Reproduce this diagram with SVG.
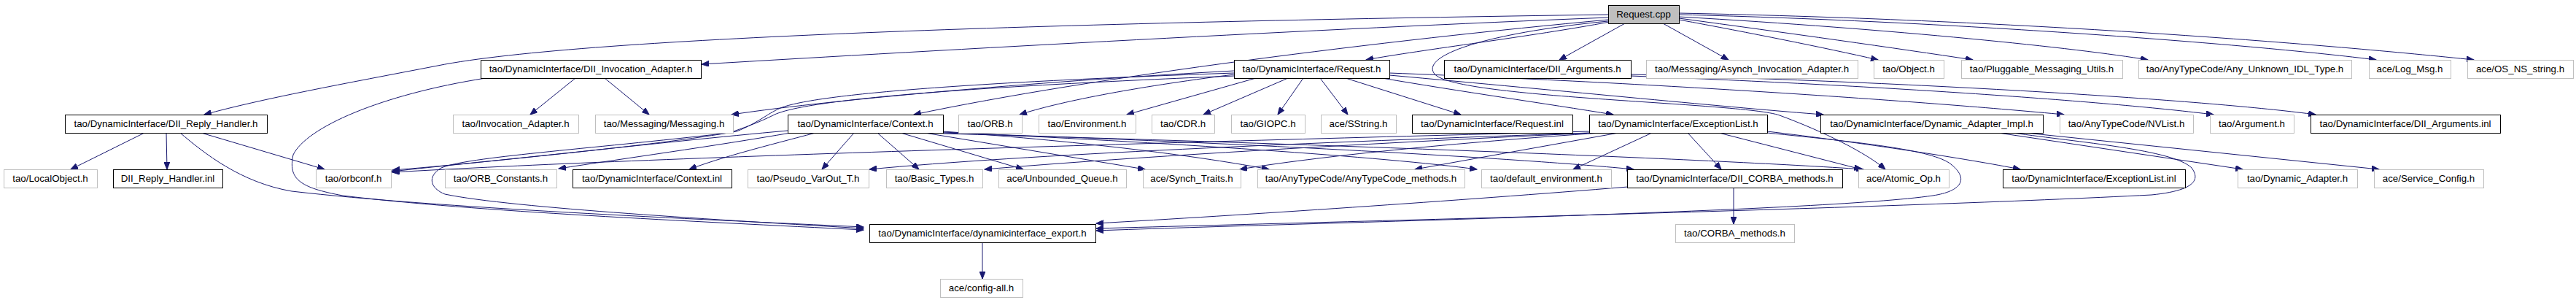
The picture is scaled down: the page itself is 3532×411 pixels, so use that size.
<svg xmlns="http://www.w3.org/2000/svg" width="3532" height="411" viewBox="0 0 3532 411">
<style>
.n rect{fill:#ffffff;stroke:#000000;stroke-width:1}
.u rect{fill:#ffffff;stroke:#bfbfbf;stroke-width:1}
.root rect{fill:#bfbfbf;stroke:#000000;stroke-width:1}
text{font-family:"Liberation Sans",Arial,Helvetica,sans-serif;font-size:13.3px;fill:#000000;text-anchor:middle}
#edges path{fill:none;stroke:#191970;stroke-width:1;marker-end:url(#ah)}
</style>
<defs>
<marker id="ah" markerUnits="userSpaceOnUse" markerWidth="11" markerHeight="8" refX="10" refY="4" orient="auto">
<path d="M0,0 L10,4 L0,8 z" fill="#191970" stroke="#191970" stroke-width="1"/>
</marker>
</defs>
<rect width="3532" height="411" fill="#ffffff"/>
<g id="edges">
<path d="M2207,30 C2100,50 1950,68 1873,82"/>
<path d="M2205,24 C1800,40 1300,68 962,88"/>
<path d="M2205,20 C1500,30 800,50 600,90 C470,115 360,135 280,157"/>
<path d="M2205,27 C1900,55 1500,105 1253,157"/>
<path d="M2228,32 L2138,82"/>
<path d="M2280,32 L2370,82"/>
<path d="M2302,27 C2400,45 2500,65 2575,82"/>
<path d="M2302,25 C2450,45 2600,66 2705,82"/>
<path d="M2302,23 C2600,40 2850,66 2945,82"/>
<path d="M2302,20 C2700,30 3100,62 3258,82"/>
<path d="M2302,18 C2800,28 3200,62 3392,82"/>
<path d="M2205,29 C2040,45 1950,75 1966,100 C1985,135 2390,140 2440,158 C2500,180 2560,210 2585,232"/>
<path d="M1692,97 C1450,110 1150,135 1003,157"/>
<path d="M1692,102 C1550,120 1450,140 1398,157"/>
<path d="M1722,107 L1545,157"/>
<path d="M1766,107 L1650,157"/>
<path d="M1787,107 L1752,157"/>
<path d="M1810,107 L1848,157"/>
<path d="M1845,107 L2003,157"/>
<path d="M1895,107 C2000,125 2120,142 2212,157"/>
<path d="M1905,103 C2150,125 2380,148 2500,157"/>
<path d="M1905,100 C2300,115 2650,140 2830,157"/>
<path d="M1692,100 C1350,112 1120,128 1070,148 C1050,157 1040,168 1010,180 C900,200 650,222 537,235"/>
<path d="M1692,104 C1350,118 1110,135 1062,157 C1040,168 1020,175 1000,182 C800,205 640,215 605,230 C585,242 590,258 610,266 C700,285 1000,302 1184,313"/>
<path d="M1080,179 C900,195 650,225 538,233"/>
<path d="M1084,182 C980,200 850,218 766,231"/>
<path d="M1118,182 C1050,200 990,215 945,232"/>
<path d="M1171,182 L1127,232"/>
<path d="M1203,182 L1260,232"/>
<path d="M1235,182 L1403,232"/>
<path d="M1268,182 L1570,232"/>
<path d="M1293,180 C1500,195 1650,215 1740,232"/>
<path d="M1293,181 C1600,195 1900,215 2025,232"/>
<path d="M1293,182 C1700,195 2100,218 2240,232"/>
<path d="M1293,183 C1800,197 2350,218 2555,232"/>
<path d="M2179,180 C1600,195 900,215 538,236"/>
<path d="M2180,182 C1800,195 1400,212 1192,232"/>
<path d="M2185,182 C1900,195 1550,215 1350,232"/>
<path d="M2195,182 C2000,195 1800,215 1700,232"/>
<path d="M2219,182 L1940,232"/>
<path d="M2265,182 L2157,232"/>
<path d="M2314,182 L2360,232"/>
<path d="M2357,182 L2552,232"/>
<path d="M2423,180 C2550,195 2700,218 2770,232"/>
<path d="M2423,182 C2550,195 2650,205 2675,225 C2700,245 2690,262 2650,268 C2500,290 1800,305 1503,316"/>
<path d="M2377,257 L2377,307"/>
<path d="M2232,256 C2000,275 1700,295 1503,306"/>
<path d="M2740,182 L3075,232"/>
<path d="M2777,182 L3262,232"/>
<path d="M2760,182 C2850,195 2980,205 3005,230 C3020,250 3000,262 2950,267 C2600,285 1900,302 1503,313"/>
<path d="M2236,104 C2600,118 2900,140 3035,157"/>
<path d="M2236,102 C2700,115 3050,140 3175,157"/>
<path d="M198,182 L97,232"/>
<path d="M228,182 L229,232"/>
<path d="M276,182 L445,232"/>
<path d="M247,182 C280,210 330,250 400,262 C600,285 950,300 1184,311"/>
<path d="M789,107 L727,157"/>
<path d="M829,107 L890,157"/>
<path d="M666,107 C520,130 420,175 402,212 C395,245 410,257 470,268 C650,290 950,303 1184,315"/>
<path d="M1347,332 L1347,382"/>
</g>
<g id="request_cpp" class="root"><rect x="2205.5" y="7.5" width="97" height="25"/><text x="2253.5" y="24">Request.cpp</text></g>
<g id="dii_invocation_adapter_h" class="n"><rect x="659.5" y="82.5" width="302" height="25"/><text x="810" y="99">tao/DynamicInterface/DII_Invocation_Adapter.h</text></g>
<g id="request_h" class="n"><rect x="1692.5" y="82.5" width="213" height="25"/><text x="1798.5" y="99">tao/DynamicInterface/Request.h</text></g>
<g id="dii_arguments_h" class="n"><rect x="1980.5" y="82.5" width="256" height="25"/><text x="2108" y="99">tao/DynamicInterface/DII_Arguments.h</text></g>
<g id="asynch_invocation_adapter_h" class="u"><rect x="2257.5" y="82.5" width="290" height="25"/><text x="2402" y="99">tao/Messaging/Asynch_Invocation_Adapter.h</text></g>
<g id="object_h" class="u"><rect x="2569.5" y="82.5" width="96" height="25"/><text x="2617" y="99">tao/Object.h</text></g>
<g id="pluggable_messaging_utils_h" class="u"><rect x="2689.5" y="82.5" width="221" height="25"/><text x="2799.5" y="99">tao/Pluggable_Messaging_Utils.h</text></g>
<g id="any_unknown_idl_type_h" class="u"><rect x="2932.5" y="82.5" width="292" height="25"/><text x="3078" y="99">tao/AnyTypeCode/Any_Unknown_IDL_Type.h</text></g>
<g id="log_msg_h" class="u"><rect x="3248.5" y="82.5" width="112" height="25"/><text x="3304" y="99">ace/Log_Msg.h</text></g>
<g id="os_ns_string_h" class="u"><rect x="3383.5" y="82.5" width="145" height="25"/><text x="3455.5" y="99">ace/OS_NS_string.h</text></g>
<g id="dii_reply_handler_h" class="n"><rect x="89.5" y="157.5" width="277" height="25"/><text x="227.5" y="174">tao/DynamicInterface/DII_Reply_Handler.h</text></g>
<g id="invocation_adapter_h" class="u"><rect x="621.5" y="157.5" width="172" height="25"/><text x="707" y="174">tao/Invocation_Adapter.h</text></g>
<g id="messaging_h" class="u"><rect x="816.5" y="157.5" width="189" height="25"/><text x="910.5" y="174">tao/Messaging/Messaging.h</text></g>
<g id="context_h" class="n"><rect x="1080.5" y="157.5" width="213" height="25"/><text x="1186.5" y="174">tao/DynamicInterface/Context.h</text></g>
<g id="orb_h" class="u"><rect x="1314.5" y="157.5" width="87" height="25"/><text x="1357.5" y="174">tao/ORB.h</text></g>
<g id="environment_h" class="u"><rect x="1424.5" y="157.5" width="133" height="25"/><text x="1490.5" y="174">tao/Environment.h</text></g>
<g id="cdr_h" class="u"><rect x="1579.5" y="157.5" width="86" height="25"/><text x="1622" y="174">tao/CDR.h</text></g>
<g id="giopc_h" class="u"><rect x="1688.5" y="157.5" width="101" height="25"/><text x="1738.5" y="174">tao/GIOPC.h</text></g>
<g id="sstring_h" class="u"><rect x="1811.5" y="157.5" width="103" height="25"/><text x="1862.5" y="174">ace/SString.h</text></g>
<g id="request_inl" class="n"><rect x="1936.5" y="157.5" width="220" height="25"/><text x="2046" y="174">tao/DynamicInterface/Request.inl</text></g>
<g id="exceptionlist_h" class="n"><rect x="2179.5" y="157.5" width="244" height="25"/><text x="2301" y="174">tao/DynamicInterface/ExceptionList.h</text></g>
<g id="dynamic_adapter_impl_h" class="n"><rect x="2496.5" y="157.5" width="305" height="25"/><text x="2648.5" y="174">tao/DynamicInterface/Dynamic_Adapter_Impl.h</text></g>
<g id="nvlist_h" class="u"><rect x="2824.5" y="157.5" width="183" height="25"/><text x="2915.5" y="174">tao/AnyTypeCode/NVList.h</text></g>
<g id="argument_h" class="u"><rect x="3030.5" y="157.5" width="115" height="25"/><text x="3087.5" y="174">tao/Argument.h</text></g>
<g id="dii_arguments_inl" class="n"><rect x="3168.5" y="157.5" width="260" height="25"/><text x="3298" y="174">tao/DynamicInterface/DII_Arguments.inl</text></g>
<g id="localobject_h" class="u"><rect x="5.5" y="232.5" width="128" height="25"/><text x="69" y="249">tao/LocalObject.h</text></g>
<g id="dii_reply_handler_inl" class="n"><rect x="155.5" y="232.5" width="150" height="25"/><text x="230" y="249">DII_Reply_Handler.inl</text></g>
<g id="orbconf_h" class="u"><rect x="433.5" y="232.5" width="103" height="25"/><text x="484.5" y="249">tao/orbconf.h</text></g>
<g id="orb_constants_h" class="u"><rect x="610.5" y="232.5" width="153" height="25"/><text x="686.5" y="249">tao/ORB_Constants.h</text></g>
<g id="context_inl" class="n"><rect x="785.5" y="232.5" width="218" height="25"/><text x="894" y="249">tao/DynamicInterface/Context.inl</text></g>
<g id="pseudo_varout_t_h" class="u"><rect x="1025.5" y="232.5" width="166" height="25"/><text x="1108" y="249">tao/Pseudo_VarOut_T.h</text></g>
<g id="basic_types_h" class="u"><rect x="1215.5" y="232.5" width="132" height="25"/><text x="1281" y="249">tao/Basic_Types.h</text></g>
<g id="unbounded_queue_h" class="u"><rect x="1369.5" y="232.5" width="175" height="25"/><text x="1456.5" y="249">ace/Unbounded_Queue.h</text></g>
<g id="synch_traits_h" class="u"><rect x="1567.5" y="232.5" width="134" height="25"/><text x="1634" y="249">ace/Synch_Traits.h</text></g>
<g id="anytypecode_methods_h" class="u"><rect x="1724.5" y="232.5" width="284" height="25"/><text x="1866" y="249">tao/AnyTypeCode/AnyTypeCode_methods.h</text></g>
<g id="default_environment_h" class="u"><rect x="2031.5" y="232.5" width="178" height="25"/><text x="2120" y="249">tao/default_environment.h</text></g>
<g id="dii_corba_methods_h" class="n"><rect x="2231.5" y="232.5" width="295" height="25"/><text x="2378.5" y="249">tao/DynamicInterface/DII_CORBA_methods.h</text></g>
<g id="atomic_op_h" class="u"><rect x="2548.5" y="232.5" width="124" height="25"/><text x="2610" y="249">ace/Atomic_Op.h</text></g>
<g id="exceptionlist_inl" class="n"><rect x="2746.5" y="232.5" width="250" height="25"/><text x="2871" y="249">tao/DynamicInterface/ExceptionList.inl</text></g>
<g id="dynamic_adapter_h" class="u"><rect x="3068.5" y="232.5" width="164" height="25"/><text x="3150" y="249">tao/Dynamic_Adapter.h</text></g>
<g id="service_config_h" class="u"><rect x="3255.5" y="232.5" width="150" height="25"/><text x="3330" y="249">ace/Service_Config.h</text></g>
<g id="dynamicinterface_export_h" class="n"><rect x="1192.5" y="307.5" width="310" height="25"/><text x="1347" y="324">tao/DynamicInterface/dynamicinterface_export.h</text></g>
<g id="corba_methods_h" class="u"><rect x="2297.5" y="307.5" width="163" height="25"/><text x="2378.5" y="324">tao/CORBA_methods.h</text></g>
<g id="config_all_h" class="u"><rect x="1289.5" y="382.5" width="113" height="25"/><text x="1345.5" y="399">ace/config-all.h</text></g>
</svg>
